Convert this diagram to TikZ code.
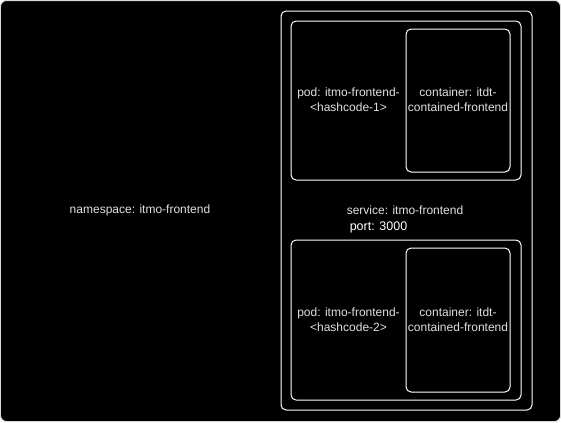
\documentclass[tikz,border=0pt]{standalone}
\usepackage{fontspec}
\setmainfont{Liberation Sans}
\begin{document}
\begin{tikzpicture}[x=1bp,y=-1bp,
  box/.style={draw=white,line width=1bp,rounded corners=5bp},
  lbl/.style={text=white!88!black,font=\fontsize{12bp}{14.5bp}\selectfont,align=center,inner sep=0},
]
\useasboundingbox (0,0) rectangle (561,422);
\fill[white] (0,0) rectangle (561,422);
\filldraw[fill=black,draw=white!85!black,line width=1bp,rounded corners=6bp] (0.5,0.5) rectangle (560.5,421.5);
\node[lbl] (ns) at (140,210) {namespace: itmo-frontend};
\draw[box] (281,11) rectangle (532,410);
\node[lbl] (svc) at (405,210) {service: itmo-frontend};
\node[lbl,text=white,font=\fontsize{12.5bp}{14bp}\selectfont] (port) at (378.5,227.5) {port: 3000};
\draw[box] (291,21) rectangle (521,180);
\draw[box] (406,29) rectangle (510,172);
\node[lbl] (pod1) at (348.5,99.5) {pod: itmo-frontend-\\<hashcode-1>};
\node[lbl] (c1) at (458,99.5) {container: itdt-\\contained-frontend};
\draw[box] (291,240) rectangle (521,400);
\draw[box] (406,248) rectangle (510,392);
\node[lbl] (pod2) at (348.5,319.5) {pod: itmo-frontend-\\<hashcode-2>};
\node[lbl] (c2) at (458,319.5) {container: itdt-\\contained-frontend};
\end{tikzpicture}
\end{document}
